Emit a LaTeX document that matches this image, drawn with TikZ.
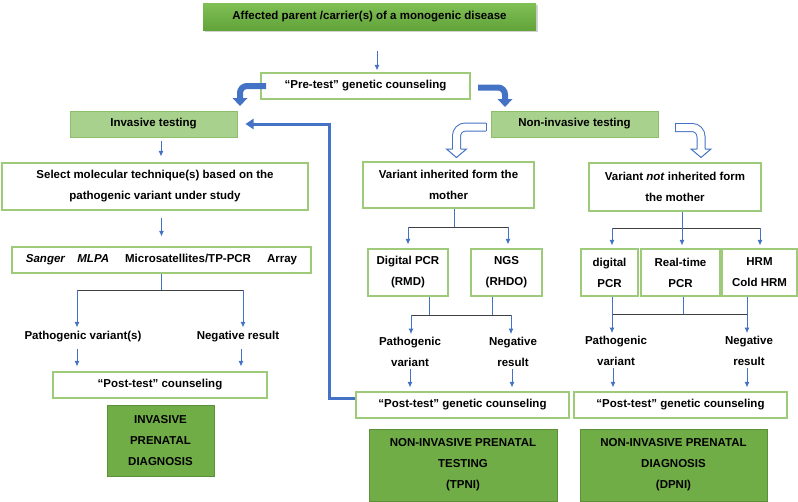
\documentclass[tikz,border=0pt]{standalone}
\usepackage{fontspec}
\setmainfont{Liberation Sans}
\usetikzlibrary{arrows.meta,shadows,calc}
\definecolor{arrowblue}{HTML}{4472C4}
\definecolor{boxgreen}{HTML}{9DCB7A}
\definecolor{lightfill}{HTML}{A9D18E}
\definecolor{lightborder}{HTML}{8DBF6A}
\definecolor{darkfill}{HTML}{70AD47}
\definecolor{darkborder}{HTML}{5B8F3A}
\definecolor{topA}{HTML}{80C055}
\definecolor{topB}{HTML}{62A33A}
\definecolor{barcol}{HTML}{3F3F3F}
\begin{document}
\begin{tikzpicture}[x=1pt,y=-1pt,
  txt/.style={font=\bfseries\fontsize{11.5}{21}\selectfont, align=center, inner sep=0pt},
  wbox/.style={txt, draw=boxgreen, line width=1.1pt, fill=white},
  lbox/.style={txt, draw=lightborder, line width=1pt, fill=lightfill},
  dbox/.style={txt, draw=darkborder, line width=1pt, fill=darkfill},
  conn/.style={draw=arrowblue, line width=0.9pt},
  arr/.style={conn, -{Latex[length=5.5pt,width=5pt]}},
  bar/.style={draw=barcol, line width=1pt},
  fb/.style={draw=arrowblue, line width=3pt, line join=miter, -{Triangle[length=8pt,width=10pt]}},
  solidbent/.style={draw=arrowblue, line width=6pt, rounded corners=7pt},
  openbent/.style={draw=arrowblue, line width=1pt, double=white, double distance=7pt, rounded corners=9pt},
  openhead/.style={fill=white, draw=arrowblue, line width=1pt, line join=miter},
]
\useasboundingbox (0,0) rectangle (798,501);

% ---------- top ----------
\node[txt, minimum width=333pt, minimum height=27pt, top color=topA, bottom color=topB,
      drop shadow={shadow xshift=1.5pt, shadow yshift=-2pt, opacity=0.35}] (top) at (369.5,16.5)
      {Affected parent /carrier(s) of a monogenic disease};
\node[wbox, minimum width=209pt, minimum height=26pt] (pre) at (365.5,86) {“Pre-test” genetic counseling};
\node[lbox, minimum width=167pt, minimum height=26pt] (inv) at (153.5,124) {Invasive testing};
\node[lbox, minimum width=167pt, minimum height=26pt] (noninv) at (574.5,124) {Non-invasive testing};

% ---------- left column ----------
\node[wbox, minimum width=306pt, minimum height=47pt] (sel) at (155,186.5)
  {Select molecular technique(s) based on the\\pathogenic variant under study};
\node[wbox, minimum width=299pt, minimum height=26pt] (tech) at (161.5,260)
  {\textit{Sanger}\hspace{12pt}\textit{MLPA}\hspace{16pt}Microsatellites/TP-PCR\hspace{16pt}Array};
\node[txt] (pvL) at (83,337) {Pathogenic variant(s)};
\node[txt] (nrL) at (238,337) {Negative result};
\node[wbox, minimum width=214pt, minimum height=26pt] (postL) at (160,385) {“Post-test” counseling};
\node[dbox, minimum width=107pt, minimum height=71pt] (ipd) at (160.5,441) {INVASIVE\\PRENATAL\\DIAGNOSIS};

% ---------- middle column ----------
\node[wbox, minimum width=171pt, minimum height=46pt] (vin) at (448.5,185) {Variant inherited form the\\mother};
\node[wbox, minimum width=80pt, minimum height=47pt] (dpcr) at (408,272.5) {Digital PCR\\(RMD)};
\node[wbox, minimum width=71pt, minimum height=47pt] (ngs) at (506.5,272.5) {NGS\\(RHDO)};
\node[txt] (pvM) at (410,352) {Pathogenic\\variant};
\node[txt] (nrM) at (513,352) {Negative\\result};
\node[wbox, minimum width=213pt, minimum height=26pt] (postM) at (462.5,405) {“Post-test” genetic counseling};
\node[dbox, minimum width=188pt, minimum height=72pt] (tpni) at (463,465) {NON-INVASIVE PRENATAL\\TESTING\\(TPNI)};

% ---------- right column ----------
\node[wbox, minimum width=172pt, minimum height=48pt] (vnot) at (675,187) {Variant \textit{not} inherited form\\the mother};
\node[wbox, minimum width=57pt, minimum height=47pt] (dpcr2) at (609.5,272.5) {digital\\PCR};
\node[wbox, minimum width=79pt, minimum height=47pt] (rt) at (680.5,272.5) {Real-time\\PCR};
\node[wbox, minimum width=75pt, minimum height=47pt] (hrm) at (759.5,272.5) {HRM\\Cold HRM};
\node[txt] (pvR) at (616,351) {Pathogenic\\variant};
\node[txt] (nrR) at (749,351) {Negative\\result};
\node[wbox, minimum width=213pt, minimum height=26pt] (postR) at (680.5,405) {“Post-test” genetic counseling};
\node[dbox, minimum width=187pt, minimum height=72pt] (dpni) at (673.5,465) {NON-INVASIVE PRENATAL\\DIAGNOSIS\\(DPNI)};

% ---------- left connectors ----------
\draw[arr] ($(top.south)+(7.5,21)$) -- ($(pre.north)+(11.5,-2)$);
\draw[arr] ($(inv.south)+(7.5,3)$) -- ($(sel.north)+(6,-6)$);
\draw[arr] ($(sel.south)+(6.5,7)$) -- ($(tech.north)+(0,-10)$);
\coordinate (jL) at (161.5,290);
\coordinate (jLa) at (77,290);
\coordinate (jLb) at (243,290);
\draw[conn] (tech.south) -- (jL);
\draw[bar] (jLa) -- (jLb);
\draw[arr] (jLa) -- ($(pvL.north)+(-6,-4)$);
\draw[arr] (jLb) -- ($(nrL.north)+(5,-4)$);
\draw[arr] ($(pvL.south)+(-6,6)$) -- ($(postL.north)+(-83,-5)$);
\draw[arr] ($(nrL.south)+(3,6)$) -- ($(postL.north)+(81,-5)$);

% ---------- middle connectors ----------
\coordinate (jM) at (454,227);
\coordinate (jMa) at (408,227);
\coordinate (jMb) at (508,227);
\draw[conn] ($(vin.south)+(5.5,0)$) -- (jM);
\draw[bar] (jMa) -- (jMb);
\draw[arr] (jMa) -- ($(dpcr.north)+(0,-4)$);
\draw[arr] (jMb) -- ($(ngs.north)+(1.5,-4)$);
\coordinate (kM1) at (429,315);
\coordinate (kM2) at (492,315);
\coordinate (kMa) at (411,315);
\coordinate (kMb) at (511,315);
\draw[conn] ($(dpcr.south)+(21,0)$) -- (kM1);
\draw[conn] ($(ngs.south)+(-14.5,0)$) -- (kM2);
\draw[bar] (kMa) -- (kMb);
\draw[arr] (kMa) -- ($(pvM.north)+(1,-3)$);
\draw[arr] (kMb) -- ($(nrM.north)+(-2,-3)$);
\draw[arr] ($(pvM.south)+(0,2)$) -- ($(postM.north)+(-52.5,-4)$);
\draw[arr] ($(nrM.south)+(-1,2)$) -- ($(postM.north)+(49.5,-4)$);

% ---------- right connectors ----------
\coordinate (jR) at (682,228);
\coordinate (jRa) at (612,228);
\coordinate (jRb) at (760,228);
\draw[conn] ($(vnot.south)+(7,0)$) -- (jR);
\draw[bar] (jRa) -- (jRb);
\draw[arr] (jRa) -- ($(dpcr2.north)+(2.5,-3)$);
\draw[arr] (jR) -- ($(rt.north)+(1.5,-3)$);
\draw[arr] (jRb) -- ($(hrm.north)+(0.5,-3)$);
\coordinate (kR1) at (683,314);
\coordinate (kRa) at (612,314);
\coordinate (kRb) at (747,314);
\draw[bar] (kRa) -- (kRb);
\draw[arr] ($(dpcr2.south)+(2.5,0)$) -- ($(pvR.north)+(-4,-3)$);
\draw[conn] ($(rt.south)+(2.5,0)$) -- (kR1);
\draw[arr] ($(hrm.south)+(-12.5,0)$) -- ($(nrR.north)+(-2,-3)$);
\draw[arr] ($(pvR.south)+(-3,2)$) -- ($(postR.north)+(-67.5,-4)$);
\draw[arr] ($(nrR.south)+(-2,2)$) -- ($(postR.north)+(66.5,-4)$);

% ---------- feedback arrow ----------
\coordinate (fbA) at (329,398);
\coordinate (fbB) at (329,124);
\draw[fb] ($(postM.west)+(0,-7)$) -- (fbA) -- (fbB) -- ($(inv.east)+(8,0)$);

% ---------- solid bent arrows ----------
\coordinate (lfS) at (266,86);
\coordinate (lfC) at (240,86);
\coordinate (lfB) at (240,98.5);
\draw[solidbent] (lfS) -- (lfC) -- (lfB);
\fill[arrowblue] (232.5,98) -- (247.5,98) -- (240,106) -- cycle;
\coordinate (rfS) at (478,87.5);
\coordinate (rfC) at (505,87.5);
\coordinate (rfB) at (505,99.5);
\draw[solidbent] (rfS) -- (rfC) -- (rfB);
\fill[arrowblue] (497.5,99) -- (512.5,99) -- (505,107) -- cycle;

% ---------- open bent arrows ----------
\coordinate (loS) at (486,127);
\coordinate (loC) at (456.5,127);
\coordinate (loB) at (456.5,149);
\draw[openbent] (loS) -- (loC) -- (loB);
\draw[arrowblue, line width=1pt] (486,123) -- (486,131);
\filldraw[openhead] (452.5,149) -- (446.5,149) -- (456.5,157.5) -- (466.5,149) -- (460.5,149);
\coordinate (roS) at (675,127.5);
\coordinate (roC) at (701,127.5);
\coordinate (roB) at (701,149);
\draw[openbent] (roS) -- (roC) -- (roB);
\draw[arrowblue, line width=1pt] (675,123.5) -- (675,131.5);
\filldraw[openhead] (697,149) -- (691,149) -- (701,157.5) -- (711,149) -- (705,149);
\end{tikzpicture}
\end{document}
